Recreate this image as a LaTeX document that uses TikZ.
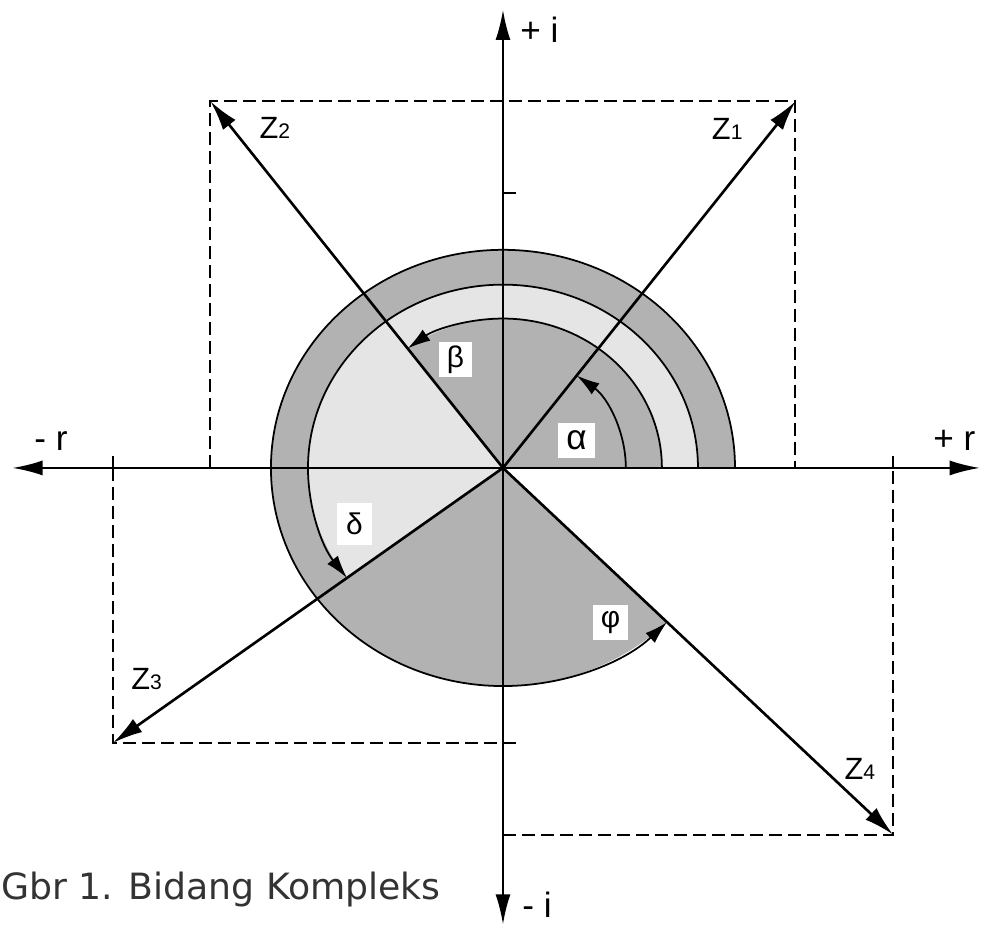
\documentclass[tikz,border=0pt]{standalone}
\usepackage{fontspec}
\setmainfont{Liberation Sans}
\newfontfamily\captionfont{DejaVu Sans}
\usetikzlibrary{arrows.meta}
\definecolor{ringdark}{gray}{0.70}
\definecolor{ringlight}{gray}{0.90}
\tikzset{
	axisline/.style={line width=1.1pt},
	axislabel/.style={anchor=base west, inner sep=0pt, font=\fontsize{20}{24}\selectfont},
	zlabel/.style={anchor=base west, inner sep=0pt, font=\fontsize{17.5}{20}\selectfont},
	greekbox/.style={fill=white, inner sep=0pt, minimum width=0.7cm, minimum height=0.7cm, font=\fontsize{17}{20}\selectfont},
	vec/.style={line width=1.5pt, -{Latex[length=6mm,width=3.2mm]}},
	anglearc/.style={line width=1pt, -{Latex[length=4.6mm,width=2.7mm]}},
	guide/.style={line width=1.15pt, dash pattern=on 2.6mm off 1.2mm},
}
\newcommand{\zname}[1]{Z{\fontsize{12}{14}\selectfont #1}}
\begin{document}
\begin{tikzpicture}[x=1.95cm, y=1.95cm, yscale=0.94, >={Latex[length=6mm,width=3mm]}]
			\useasboundingbox (-5.159,-5.008) rectangle (4.903,5.106);
			\coordinate (O) at (0,0);
			\coordinate (z1) at (3,4);
			\coordinate (z2) at (-3,4);
			\coordinate (z3) at (-4,-3);
			\coordinate (z4) at (4,-4);
			\coordinate (rneg) at (-5.03,0);
			\coordinate (rpos) at (4.89,0);
			\coordinate (ipos) at (0,4.997);
			\coordinate (ineg) at (0,-4.98);
			\fill[ringdark] (O) -- (2.38,0) arc[start angle=0, end angle=315, radius=2.38] -- cycle;
			\fill[ringlight] (O) -- (2,0) arc[start angle=0, end angle=216.87, radius=2] -- cycle;
			\fill[ringdark] (O) -- (1.63,0) arc[start angle=0, end angle=126.87, radius=1.63] -- cycle;
			\draw[anglearc] (2.38,0) arc[start angle=0, end angle=315, radius=2.38];
			\draw[anglearc] (2,0) arc[start angle=0, end angle=216.87, radius=2];
			\draw[anglearc] (1.63,0) arc[start angle=0, end angle=126.87, radius=1.63];
			\draw[anglearc] (1.26,0) arc[start angle=0, end angle=53.13, radius=1.26];
			\draw[guide] (z2 |- O) -- (z2) -- (z1) -- (z1 |- O);
			\draw[guide] (z3 |- O) -- (z3) -- (z3 -| O);
			\draw[guide] (z4 -| O) -- (z4) -- (z4 |- O);
			\foreach \t in {-4,4} \draw[axisline] (\t,0) -- ++(0,0.13);
			\foreach \t in {-3,3} \draw[axisline] (0,\t) -- ++(0.13,0);
			\draw[axisline, <->] (rneg) -- (rpos);
			\draw[axisline, <->] (ineg) -- (ipos);
			\foreach \z in {z1,z2,z3,z4} \draw[vec] (O) -- (\z);
			\node[axislabel] (lblipos) at (0.174,4.637) {+ i};
			\node[axislabel] (lblineg) at (0.195,-4.90) {- i};
			\node[axislabel] (lblrneg) at (-4.81,0.185) {- r};
			\node[axislabel] (lblrpos) at (4.41,0.185) {+ r};
			\node[zlabel] (lblz1) at (2.14,3.58) {\zname{1}};
			\node[zlabel] (lblz2) at (-2.50,3.60) {\zname{2}};
			\node[zlabel] (lblz3) at (-3.815,-2.42) {\zname{3}};
			\node[zlabel] (lblz4) at (3.50,-3.40) {\zname{4}};
			\node[greekbox, minimum width=0.74cm, font=\fontsize{20}{22}\selectfont] (alpha) at (0.754,0.30) {α};
			\node[greekbox, minimum width=0.66cm] (beta) at (-0.487,1.184) {β};
			\node[greekbox, minimum height=0.84cm] (delta) at (-1.523,-0.611) {δ};
			\node[greekbox] (phi) at (1.103,-1.686) {φ};
			\node[anchor=base west, inner sep=0pt, text=black!80, font=\captionfont\fontsize{20.6}{24}\selectfont] (caption) at (-5.149,-4.714) {Gbr 1. Bidang Kompleks};
		\end{tikzpicture}
\end{document}
